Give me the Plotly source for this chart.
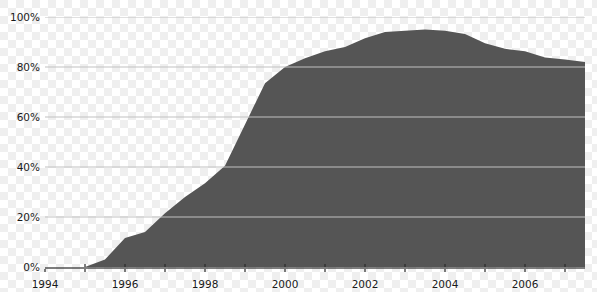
import base64
import plotly.graph_objects as go

# ---- data ----
years = [1995, 1995.5, 1996, 1996.5, 1997, 1997.5, 1998, 1998.5, 1999, 1999.5,
         2000, 2000.5, 2001, 2001.5, 2002, 2002.5, 2003, 2003.5, 2004, 2004.5,
         2005, 2005.5, 2006, 2006.5, 2007, 2007.5]
share = [0, 3, 11.6, 14, 21.5, 28, 33.5, 40.5, 57, 73.5,
         80, 83.5, 86.3, 88, 91.5, 94, 94.5, 95, 94.5, 93.2,
         89.5, 87.3, 86.3, 83.8, 83, 82]
x_tick_vals = list(range(1994, 2008))
x_tick_text = [str(y) if y % 2 == 0 else "" for y in x_tick_vals]
y_tick_vals = [0, 20, 40, 60, 80, 100]
y_tick_text = ["0%", "20%", "40%", "60%", "80%", "100%"]

W, H = 597, 292
ML, MR, MT, MB = 45, 12, 17, 25
PW, PH = W - ML - MR, H - MT - MB

# transparency checkerboard background
svg = (f"<svg xmlns='http://www.w3.org/2000/svg' width='{W}' height='{H}'>"
       "<defs><pattern id='p' width='16' height='16' patternUnits='userSpaceOnUse' x='0' y='0'>"
       "<rect width='16' height='16' fill='#ffffff'/>"
       "<rect width='8' height='8' fill='#efefef'/>"
       "<rect x='8' y='8' width='8' height='8' fill='#efefef'/>"
       "</pattern></defs>"
       f"<rect width='{W}' height='{H}' fill='url(#p)'/></svg>")
src = "data:image/svg+xml;base64," + base64.b64encode(svg.encode()).decode()

fig = go.Figure()
fig.add_trace(go.Scatter(
    x=years, y=share, mode="lines", fill="tozeroy",
    line=dict(color="#555555", width=0), fillcolor="#555555",
    hoverinfo="skip", showlegend=False))
# helper trace to attach the overlay axis that carries the inward ticks
fig.add_trace(go.Scatter(
    x=x_tick_vals, y=[0] * len(x_tick_vals), mode="markers",
    marker=dict(opacity=0), xaxis="x2", hoverinfo="skip", showlegend=False))

font = dict(family="DejaVu Sans", size=10.5, color="#1a1a1a")
axis_col = "rgba(40,40,40,0.6)"

fig.update_layout(
    width=W, height=H, autosize=False, showlegend=False,
    margin=dict(l=ML, r=MR, t=MT, b=MB, pad=0, autoexpand=False),
    paper_bgcolor="rgba(0,0,0,0)", plot_bgcolor="rgba(0,0,0,0)",
    font=font,
    images=[dict(source=src, xref="paper", yref="paper",
                 x=-ML / PW, y=1 + MT / PH, sizex=W / PW, sizey=H / PH,
                 xanchor="left", yanchor="top", sizing="stretch", layer="below")],
    xaxis=dict(range=[1994, 2007.5], tickvals=x_tick_vals, ticktext=x_tick_text,
               ticks="outside", ticklen=3, tickwidth=1.5, tickcolor=axis_col,
               showline=True, linecolor=axis_col, linewidth=1.5, automargin=False,
               showgrid=False, zeroline=False, tickfont=font, ticklabelstandoff=4),
    xaxis2=dict(range=[1994, 2007.5], overlaying="x", side="bottom", anchor="y",
                tickvals=x_tick_vals, ticks="inside", ticklen=3, tickwidth=1.5,
                tickcolor=axis_col, showticklabels=False, showline=False,
                showgrid=False, zeroline=False, automargin=False),
    yaxis=dict(range=[0, 100], tickvals=y_tick_vals, ticktext=y_tick_text,
               showgrid=False, zeroline=False, showline=False, ticks="",
               automargin=False, tickfont=font, ticklabelstandoff=4),
    shapes=[dict(type="line", xref="paper", yref="y", x0=0, x1=1, y0=v, y1=v,
                 line=dict(color="rgba(194,194,194,0.5)", width=2), layer="above")
            for v in y_tick_vals[1:]],
)

fig.write_html("out.html")
